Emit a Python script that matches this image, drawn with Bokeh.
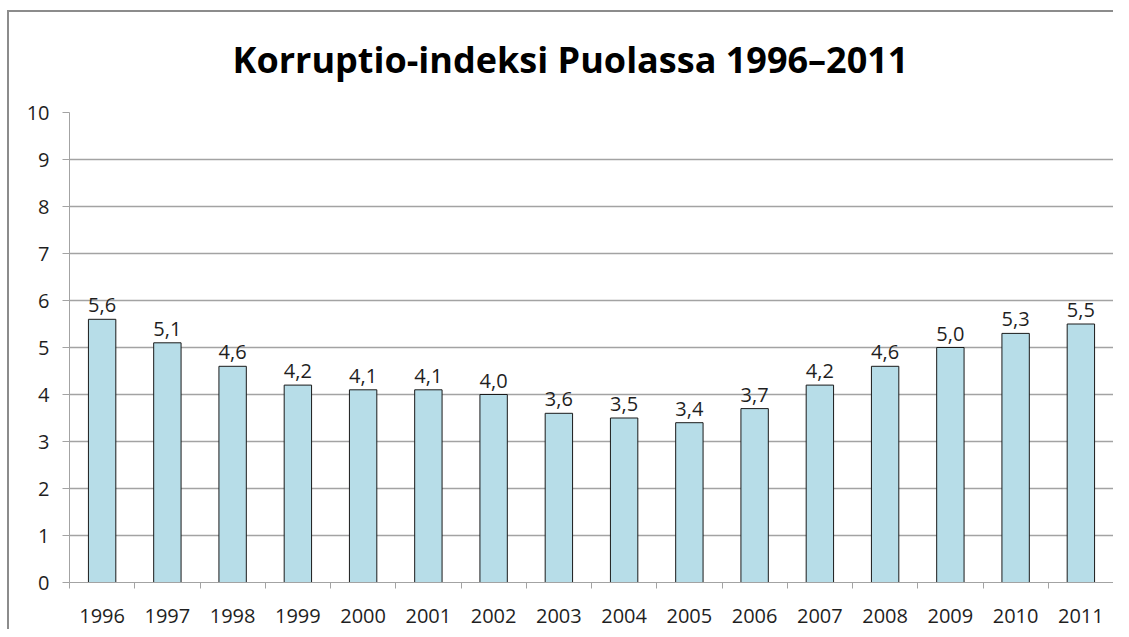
from bokeh.plotting import figure
from bokeh.models import FactorRange, Range1d, LinearAxis, FixedTicker, Title, ColumnDataSource
from bokeh.core.properties import value
from bokeh.embed import file_html
from bokeh.resources import INLINE

years = ["1996", "1997", "1998", "1999", "2000", "2001", "2002", "2003",
         "2004", "2005", "2006", "2007", "2008", "2009", "2010", "2011"]
values = [5.6, 5.1, 4.6, 4.2, 4.1, 4.1, 4.0, 3.6, 3.5, 3.4, 3.7, 4.2, 4.6, 5.0, 5.3, 5.5]
y_ticks = [0, 1, 2, 3, 4, 5, 6, 7, 8, 9, 10]
title_text = "Korruptio-indeksi Puolassa 1996–2011"

labels = [f"{v:.1f}".replace(".", ",") for v in values]
src = ColumnDataSource(dict(year=years, val=values, lab=labels))

FONT = "Open Sans"
TXT = "#1f1f1f"
GRID = "#a3a3a3"

p = figure(width=1113, height=629, x_range=FactorRange(*years, range_padding=0),
           y_range=Range1d(0, 10), x_axis_type=None, output_backend="svg",
           toolbar_location=None, min_border_left=69, min_border_right=0,
           min_border_top=112, min_border_bottom=47)
p.styles = {"box-shadow": "inset 7px 10px 0 0 #ffffff, inset 9px 12px 0 0 #8c8c8c",
            "background-color": "#ffffff"}
p.outline_line_color = None
p.background_fill_color = "white"
p.border_fill_color = None

p.title = Title(text=title_text, align="left", offset=163, text_font=FONT,
                text_font_size="36px", text_font_style="bold", text_color="#000000",
                standoff=57)

p.vbar(x="year", top="val", width=0.42, source=src, fill_color="#B7DDE8",
       line_color="#1a1a1a", line_width=1)
p.text(x="year", y="val", text="lab", source=src, text_align="center",
       text_baseline="alphabetic", y_offset=-14, text_font=value(FONT),
       text_font_size="20px", text_color=TXT)

# y axis
p.yaxis.ticker = FixedTicker(ticks=y_ticks)
p.yaxis.axis_line_color = GRID
p.yaxis.major_tick_line_color = GRID
p.yaxis.major_tick_out = 7
p.yaxis.major_tick_in = 0
p.yaxis.minor_tick_line_color = None
p.yaxis.major_label_text_font = FONT
p.yaxis.major_label_text_font_size = "20px"
p.yaxis.major_label_text_color = TXT
p.yaxis.major_label_standoff = 13

p.ygrid.ticker = FixedTicker(ticks=y_ticks)
p.ygrid.grid_line_color = GRID
p.ygrid.grid_line_width = 1.3
p.xgrid.grid_line_color = None

# x axis: labels at category centres, tick marks between categories
centres = [i + 0.5 for i in range(len(years))]
bounds = [i for i in range(len(years) + 1)]
xaxis = LinearAxis(ticker=FixedTicker(ticks=centres, minor_ticks=bounds),
                   major_label_overrides={c: y for c, y in zip(centres, years)})
xaxis.axis_line_color = GRID
xaxis.major_tick_line_color = None
xaxis.major_tick_out = 0
xaxis.major_tick_in = 0
xaxis.minor_tick_line_color = GRID
xaxis.minor_tick_out = 6
xaxis.minor_tick_in = 0
xaxis.major_label_text_font = FONT
xaxis.major_label_text_font_size = "20px"
xaxis.major_label_text_color = TXT
xaxis.major_label_standoff = 20
p.add_layout(xaxis, "below")

open("out.html", "w").write(file_html(p, INLINE))
